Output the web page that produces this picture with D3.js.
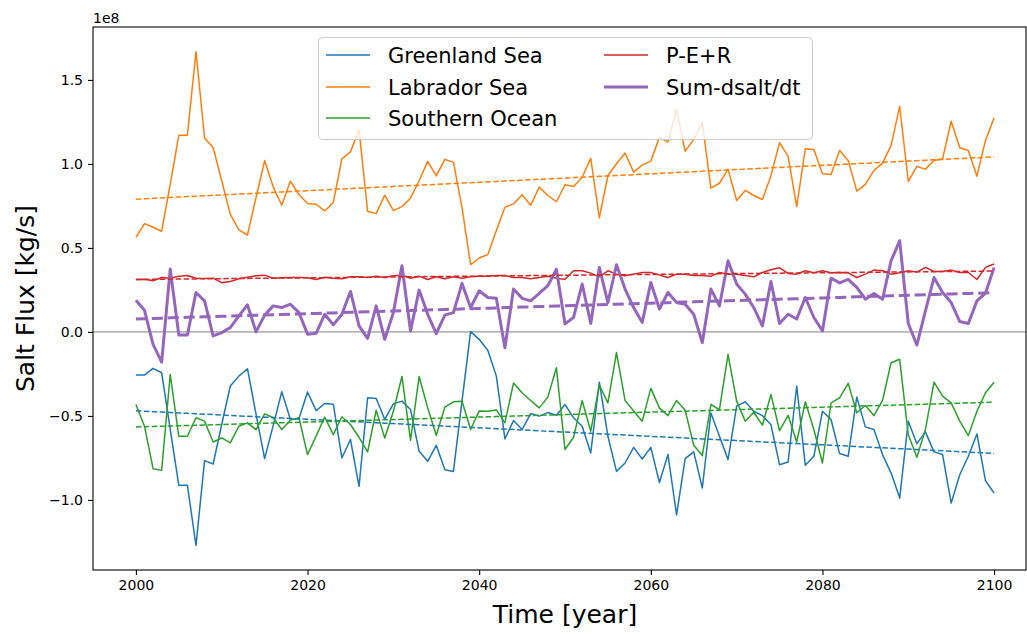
<!DOCTYPE html>
<html>
<head>
<meta charset="utf-8">
<script src="https://cdn.jsdelivr.net/npm/d3@7"></script>
<style>
  html, body { margin: 0; padding: 0; background: #fff; }
  svg { display: block; font-family: "DejaVu Sans", sans-serif; }
</style>
</head>
<body>
<svg id="chart" width="1027" height="634"></svg>
<script>
// Annual salt flux budget terms, in units of 1e8 kg/s
const years = d3.range(2000, 2101);

const greenlandSea = [
  -0.257, -0.257, -0.217, -0.243, -0.58, -0.913, -0.913, -1.27, -0.766, -0.786,
  -0.551, -0.322, -0.263, -0.219, -0.491, -0.754, -0.556, -0.356, -0.521, -0.515,
  -0.358, -0.468, -0.426, -0.43, -0.75, -0.64, -0.919, -0.392, -0.396, -0.521,
  -0.428, -0.412, -0.462, -0.71, -0.77, -0.675, -0.82, -0.83, -0.41, 0.002,
  -0.044, -0.109, -0.263, -0.637, -0.527, -0.581, -0.486, -0.501, -0.48, -0.496,
  -0.432, -0.511, -0.561, -0.72, -0.299, -0.621, -0.83, -0.78, -0.687, -0.756,
  -0.687, -0.896, -0.73, -1.089, -0.754, -0.714, -0.929, -0.482, -0.621, -0.76,
  -0.442, -0.416, -0.472, -0.498, -0.553, -0.79, -0.774, -0.322, -0.794, -0.74,
  -0.472, -0.521, -0.724, -0.74, -0.388, -0.565, -0.581, -0.73, -0.84, -0.989,
  -0.531, -0.665, -0.595, -0.714, -0.73, -1.019, -0.85, -0.74, -0.607, -0.886, -0.959
];

const labradorSea = [
  0.563, 0.645, 0.623, 0.599, 0.88, 1.17, 1.17, 1.668, 1.154, 1.096,
  0.90, 0.70, 0.607, 0.577, 0.80, 1.02, 0.862, 0.754, 0.898, 0.818,
  0.764, 0.76, 0.72, 0.77, 1.03, 1.072, 1.204, 0.718, 0.704, 0.814,
  0.722, 0.746, 0.796, 0.90, 1.015, 0.929, 1.027, 1.009, 0.74, 0.40,
  0.44, 0.46, 0.603, 0.742, 0.762, 0.816, 0.754, 0.862, 0.812, 0.775,
  0.876, 0.866, 0.921, 1.033, 0.679, 0.931, 1.001, 1.065, 0.951, 0.993,
  1.017, 1.158, 1.13, 1.325, 1.075, 1.146, 1.246, 0.856, 0.885, 0.969,
  0.782, 0.842, 0.812, 0.788, 0.93, 1.127, 1.045, 0.746, 1.09, 1.086,
  0.941, 0.937, 1.08, 1.02, 0.838, 0.878, 0.961, 1.005, 1.11, 1.343,
  0.896, 0.985, 0.969, 1.02, 1.031, 1.254, 1.096, 1.08, 0.927, 1.14, 1.274
];

const southernOcean = [
  -0.432, -0.561, -0.814, -0.824, -0.253, -0.621, -0.621, -0.511, -0.531, -0.655,
  -0.631, -0.66, -0.561, -0.541, -0.581, -0.488, -0.511, -0.581, -0.525, -0.511,
  -0.73, -0.619, -0.507, -0.611, -0.505, -0.551, -0.627, -0.714, -0.466, -0.631,
  -0.472, -0.265, -0.645, -0.265, -0.452, -0.615, -0.448, -0.416, -0.412, -0.581,
  -0.47, -0.472, -0.464, -0.541, -0.304, -0.362, -0.408, -0.452, -0.388, -0.213,
  -0.7, -0.627, -0.408, -0.591, -0.316, -0.422, -0.123, -0.408, -0.47, -0.531,
  -0.336, -0.452, -0.498, -0.408, -0.466, -0.675, -0.736, -0.432, -0.462, -0.133,
  -0.412, -0.531, -0.478, -0.555, -0.372, -0.588, -0.496, -0.655, -0.416, -0.581,
  -0.78, -0.422, -0.392, -0.306, -0.481, -0.438, -0.498, -0.408, -0.183, -0.163,
  -0.611, -0.746, -0.581, -0.299, -0.382, -0.422, -0.531, -0.617, -0.472, -0.362, -0.299
];

const precipEvapRunoff = [
  0.312, 0.314, 0.304, 0.324, 0.320, 0.332, 0.336, 0.320, 0.318, 0.320,
  0.293, 0.300, 0.316, 0.326, 0.334, 0.338, 0.320, 0.322, 0.324, 0.324,
  0.322, 0.312, 0.326, 0.320, 0.316, 0.328, 0.328, 0.324, 0.332, 0.324,
  0.334, 0.338, 0.320, 0.332, 0.312, 0.328, 0.316, 0.328, 0.320, 0.328,
  0.332, 0.332, 0.336, 0.336, 0.324, 0.324, 0.316, 0.324, 0.332, 0.320,
  0.314, 0.364, 0.364, 0.350, 0.328, 0.364, 0.344, 0.334, 0.344, 0.354,
  0.354, 0.338, 0.324, 0.344, 0.344, 0.336, 0.336, 0.332, 0.354, 0.344,
  0.344, 0.336, 0.328, 0.354, 0.370, 0.382, 0.348, 0.344, 0.364, 0.352,
  0.364, 0.352, 0.354, 0.352, 0.324, 0.344, 0.368, 0.364, 0.344, 0.352,
  0.364, 0.356, 0.384, 0.360, 0.360, 0.368, 0.354, 0.354, 0.312, 0.384, 0.404
];

const sumMinusDsaltDt = [
  0.189, 0.129, -0.074, -0.18, 0.374, -0.018, -0.018, 0.235, 0.185, -0.024,
  -0.004, 0.026, 0.096, 0.161, 0.0, 0.10, 0.155, 0.145, 0.165, 0.115,
  -0.014, -0.008, 0.105, 0.042, 0.105, 0.241, 0.036, -0.038, 0.155, -0.044,
  0.115, 0.394, 0.006, 0.249, 0.105, -0.01, 0.10, 0.115, 0.289, 0.145,
  0.245, 0.205, 0.2, -0.094, 0.255, 0.2, 0.185, 0.229, 0.275, 0.373,
  0.048, 0.086, 0.285, 0.05, 0.384, 0.175, 0.40, 0.255, 0.145, 0.056,
  0.294, 0.136, 0.235, 0.175, 0.165, 0.105, -0.064, 0.255, 0.155, 0.424,
  0.285, 0.225, 0.145, 0.036, 0.30, 0.05, 0.105, 0.077, 0.205, 0.086,
  0.006, 0.32, 0.292, 0.313, 0.265, 0.195, 0.229, 0.195, 0.424, 0.543,
  0.05, -0.078, 0.125, 0.324, 0.235, 0.175, 0.062, 0.05, 0.185, 0.231, 0.384
];

const seriesNames = ["Greenland Sea", "Labrador Sea", "Southern Ocean", "P-E+R", "Sum-dsalt/dt"];
const seriesColors = ["#1f77b4", "#ff7f0e", "#2ca02c", "#d62728", "#9467bd"];
const seriesWidths = [1.5, 1.5, 1.5, 1.5, 3];
const seriesValues = [greenlandSea, labradorSea, southernOcean, precipEvapRunoff, sumMinusDsaltDt];

const xTicks = [2000, 2020, 2040, 2060, 2080, 2100];
const yTicks = [-1.0, -0.5, 0.0, 0.5, 1.0, 1.5];
const offsetLabel = "1e8";
const xLabel = "Time [year]";
const yLabel = "Salt Flux [kg/s]";

// ---- layout ----
const svg = d3.select("#chart");
const plot = { left: 93, top: 27, right: 1037, bottom: 570 };
const frameRight = 1026; // visible right edge of the axes box

const allVals = seriesValues.flat();
const yMin = d3.min(allVals), yMax = d3.max(allVals);
const yPad = (yMax - yMin) * 0.05;
const x = d3.scaleLinear().domain([1995, 2105]).range([plot.left, plot.right]);
const y = d3.scaleLinear().domain([yMin - yPad, yMax + yPad]).range([plot.bottom, plot.top]);

// least-squares linear fit for each series
function linearFit(xs, ys) {
  const mx = d3.mean(xs), my = d3.mean(ys);
  let num = 0, den = 0;
  xs.forEach((xv, i) => { num += (xv - mx) * (ys[i] - my); den += (xv - mx) * (xv - mx); });
  const slope = num / den;
  return xv => my + slope * (xv - mx);
}

// zero reference line
svg.append("line")
  .attr("x1", plot.left).attr("x2", frameRight)
  .attr("y1", y(0)).attr("y2", y(0))
  .attr("stroke", "#808080").attr("stroke-width", 1);

const line = d3.line().x(d => x(d[0])).y(d => y(d[1]));

seriesValues.forEach((vals, i) => {
  const pts = years.map((yr, j) => [yr, vals[j]]);
  svg.append("path")
    .attr("d", line(pts))
    .attr("fill", "none")
    .attr("stroke", seriesColors[i])
    .attr("stroke-width", seriesWidths[i])
    .attr("stroke-linejoin", "round");
});

seriesValues.forEach((vals, i) => {
  const f = linearFit(years, vals);
  const w = seriesWidths[i];
  svg.append("path")
    .attr("d", line(years.map(yr => [yr, f(yr)])))
    .attr("fill", "none")
    .attr("stroke", seriesColors[i])
    .attr("stroke-width", w)
    .attr("stroke-dasharray", `${3.7 * w} ${1.6 * w}`);
});

// frame
svg.append("rect")
  .attr("x", plot.left).attr("y", plot.top)
  .attr("width", frameRight - plot.left).attr("height", plot.bottom - plot.top)
  .attr("fill", "none").attr("stroke", "#000").attr("stroke-width", 1.1);

// x axis
const xAxis = svg.append("g").attr("transform", `translate(0,${plot.bottom})`)
  .call(d3.axisBottom(x).tickValues(xTicks).tickFormat(d3.format("d")).tickSize(5).tickPadding(5));
xAxis.select(".domain").remove();
xAxis.selectAll("text").attr("font-size", 14).attr("fill", "#000").attr("font-family", "DejaVu Sans");
xAxis.selectAll("line").attr("stroke", "#000").attr("stroke-width", 1.1);

// y axis
const fmtY = v => d3.format(".1f")(v).replace("-", "\u2212");
const yAxis = svg.append("g").attr("transform", `translate(${plot.left},0)`)
  .call(d3.axisLeft(y).tickValues(yTicks).tickFormat(fmtY).tickSize(5).tickPadding(5));
yAxis.select(".domain").remove();
yAxis.selectAll("text").attr("font-size", 14).attr("fill", "#000").attr("font-family", "DejaVu Sans");
yAxis.selectAll("line").attr("stroke", "#000").attr("stroke-width", 1.1);

svg.append("text").attr("x", plot.left).attr("y", 23)
  .attr("font-size", 14).text(offsetLabel);

svg.append("text")
  .attr("transform", `translate(34,${(plot.top + plot.bottom) / 2}) rotate(-90)`)
  .attr("text-anchor", "middle").attr("font-size", 25).text(yLabel);

svg.append("text")
  .attr("x", (plot.left + plot.right) / 2).attr("y", 623)
  .attr("text-anchor", "middle").attr("font-size", 25).text(xLabel);

// legend
const legend = svg.append("g");
legend.append("rect")
  .attr("x", 318.5).attr("y", 37.5).attr("width", 494).attr("height", 102)
  .attr("rx", 4).attr("fill", "#fff").attr("fill-opacity", 0.8)
  .attr("stroke", "#cccccc").attr("stroke-width", 1);
const cols = [[0, 1, 2], [3, 4]];
const colX = [326, 604];
const rowY = [55, 87, 118];
cols.forEach((idxs, c) => {
  idxs.forEach((si, r) => {
    legend.append("line")
      .attr("x1", colX[c]).attr("x2", colX[c] + 44)
      .attr("y1", rowY[r]).attr("y2", rowY[r])
      .attr("stroke", seriesColors[si]).attr("stroke-width", seriesWidths[si]);
    legend.append("text")
      .attr("x", colX[c] + 62).attr("y", rowY[r])
      .attr("dy", "0.36em")
      .attr("font-size", 21).text(seriesNames[si]);
  });
});
</script>
</body>
</html>
